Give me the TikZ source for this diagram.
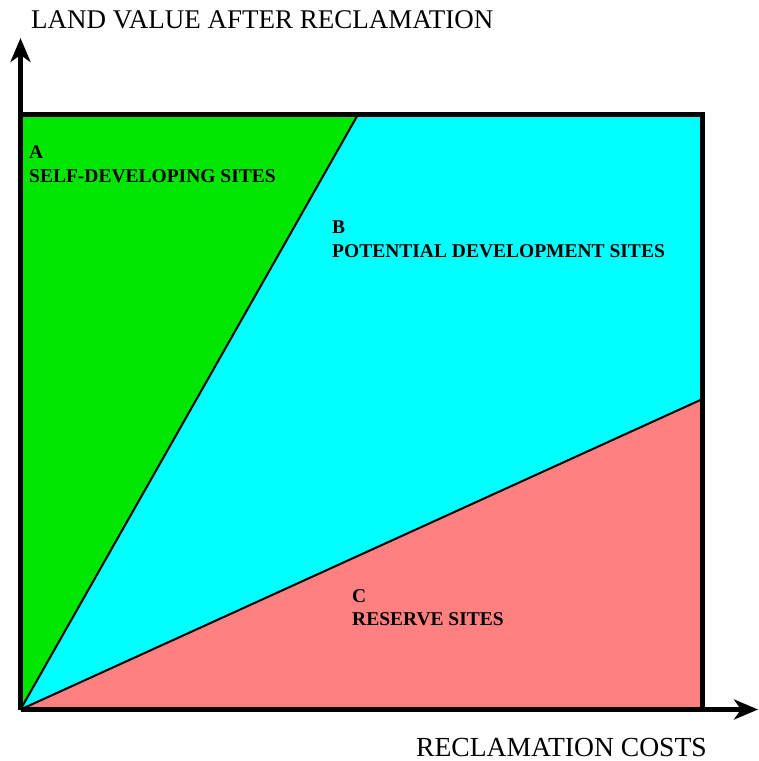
\documentclass[tikz,border=0pt]{standalone}
\usepackage{fontspec}
\setmainfont{Liberation Serif}
\usetikzlibrary{arrows.meta}
\definecolor{zoneA}{RGB}{0,230,0}
\definecolor{zoneB}{RGB}{0,255,255}
\definecolor{zoneC}{RGB}{255,128,128}
\begin{document}
\begin{tikzpicture}[x=1pt,y=-1pt,
  axislabel/.style={anchor=base west,inner sep=0pt,font=\fontsize{27}{28}\selectfont},
  zonelabel/.style={anchor=base west,inner sep=0pt,font=\fontsize{19.5}{24}\selectfont\bfseries,align=left},
  axis/.style={line width=4.5pt,-{Stealth[length=24pt,width=20pt,inset=7pt]}},
  divider/.style={line width=2pt},
  frame/.style={line width=5pt}]
  \useasboundingbox (0,0) rectangle (759,761);
  % corner points of the plotting area
  \coordinate (O)  at (20.5,709.5);
  \coordinate (TL) at (20.5,114.5);
  \coordinate (TR) at (702.5,114.5);
  \coordinate (BR) at (702.5,709.5);
  \coordinate (P)  at (358,114.5);   % upper end of the A/B boundary
  \coordinate (Q)  at (702.5,399);   % right end of the B/C boundary
  \coordinate (Ytip) at (20.5,38);
  \coordinate (Xtip) at (758,709.5);
  % zones
  \fill[zoneA] (O) -- (TL) -- (P) -- cycle;
  \fill[zoneB] (O) -- (P) -- (TR) -- (Q) -- cycle;
  \fill[zoneC] (O) -- (Q) -- (BR) -- cycle;
  % boundaries between zones
  \draw[divider] (O) -- (P);
  \draw[divider] (O) -- (Q);
  % frame
  \draw[frame] (TL) -- (TR) -- (BR);
  % axes
  \draw[axis] (O) -- (Ytip);
  \draw[axis] (O) -- (Xtip);
  % axis titles
  \node[axislabel] (ylab) at (31,28) {LAND VALUE AFTER RECLAMATION};
  \node[axislabel,font=\fontsize{27.6}{28}\selectfont] (xlab) at (416,756) {RECLAMATION COSTS};
  % zone labels
  \node[zonelabel] (la) at (29,158) {A};
  \node[zonelabel] (na) at (29,182) {SELF-DEVELOPING SITES};
  \node[zonelabel] (lb) at (332,233) {B};
  \node[zonelabel] (nb) at (332,257) {POTENTIAL DEVELOPMENT SITES};
  \node[zonelabel] (lc) at (352,602) {C};
  \node[zonelabel] (nc) at (352,625) {RESERVE SITES};
\end{tikzpicture}
\end{document}
